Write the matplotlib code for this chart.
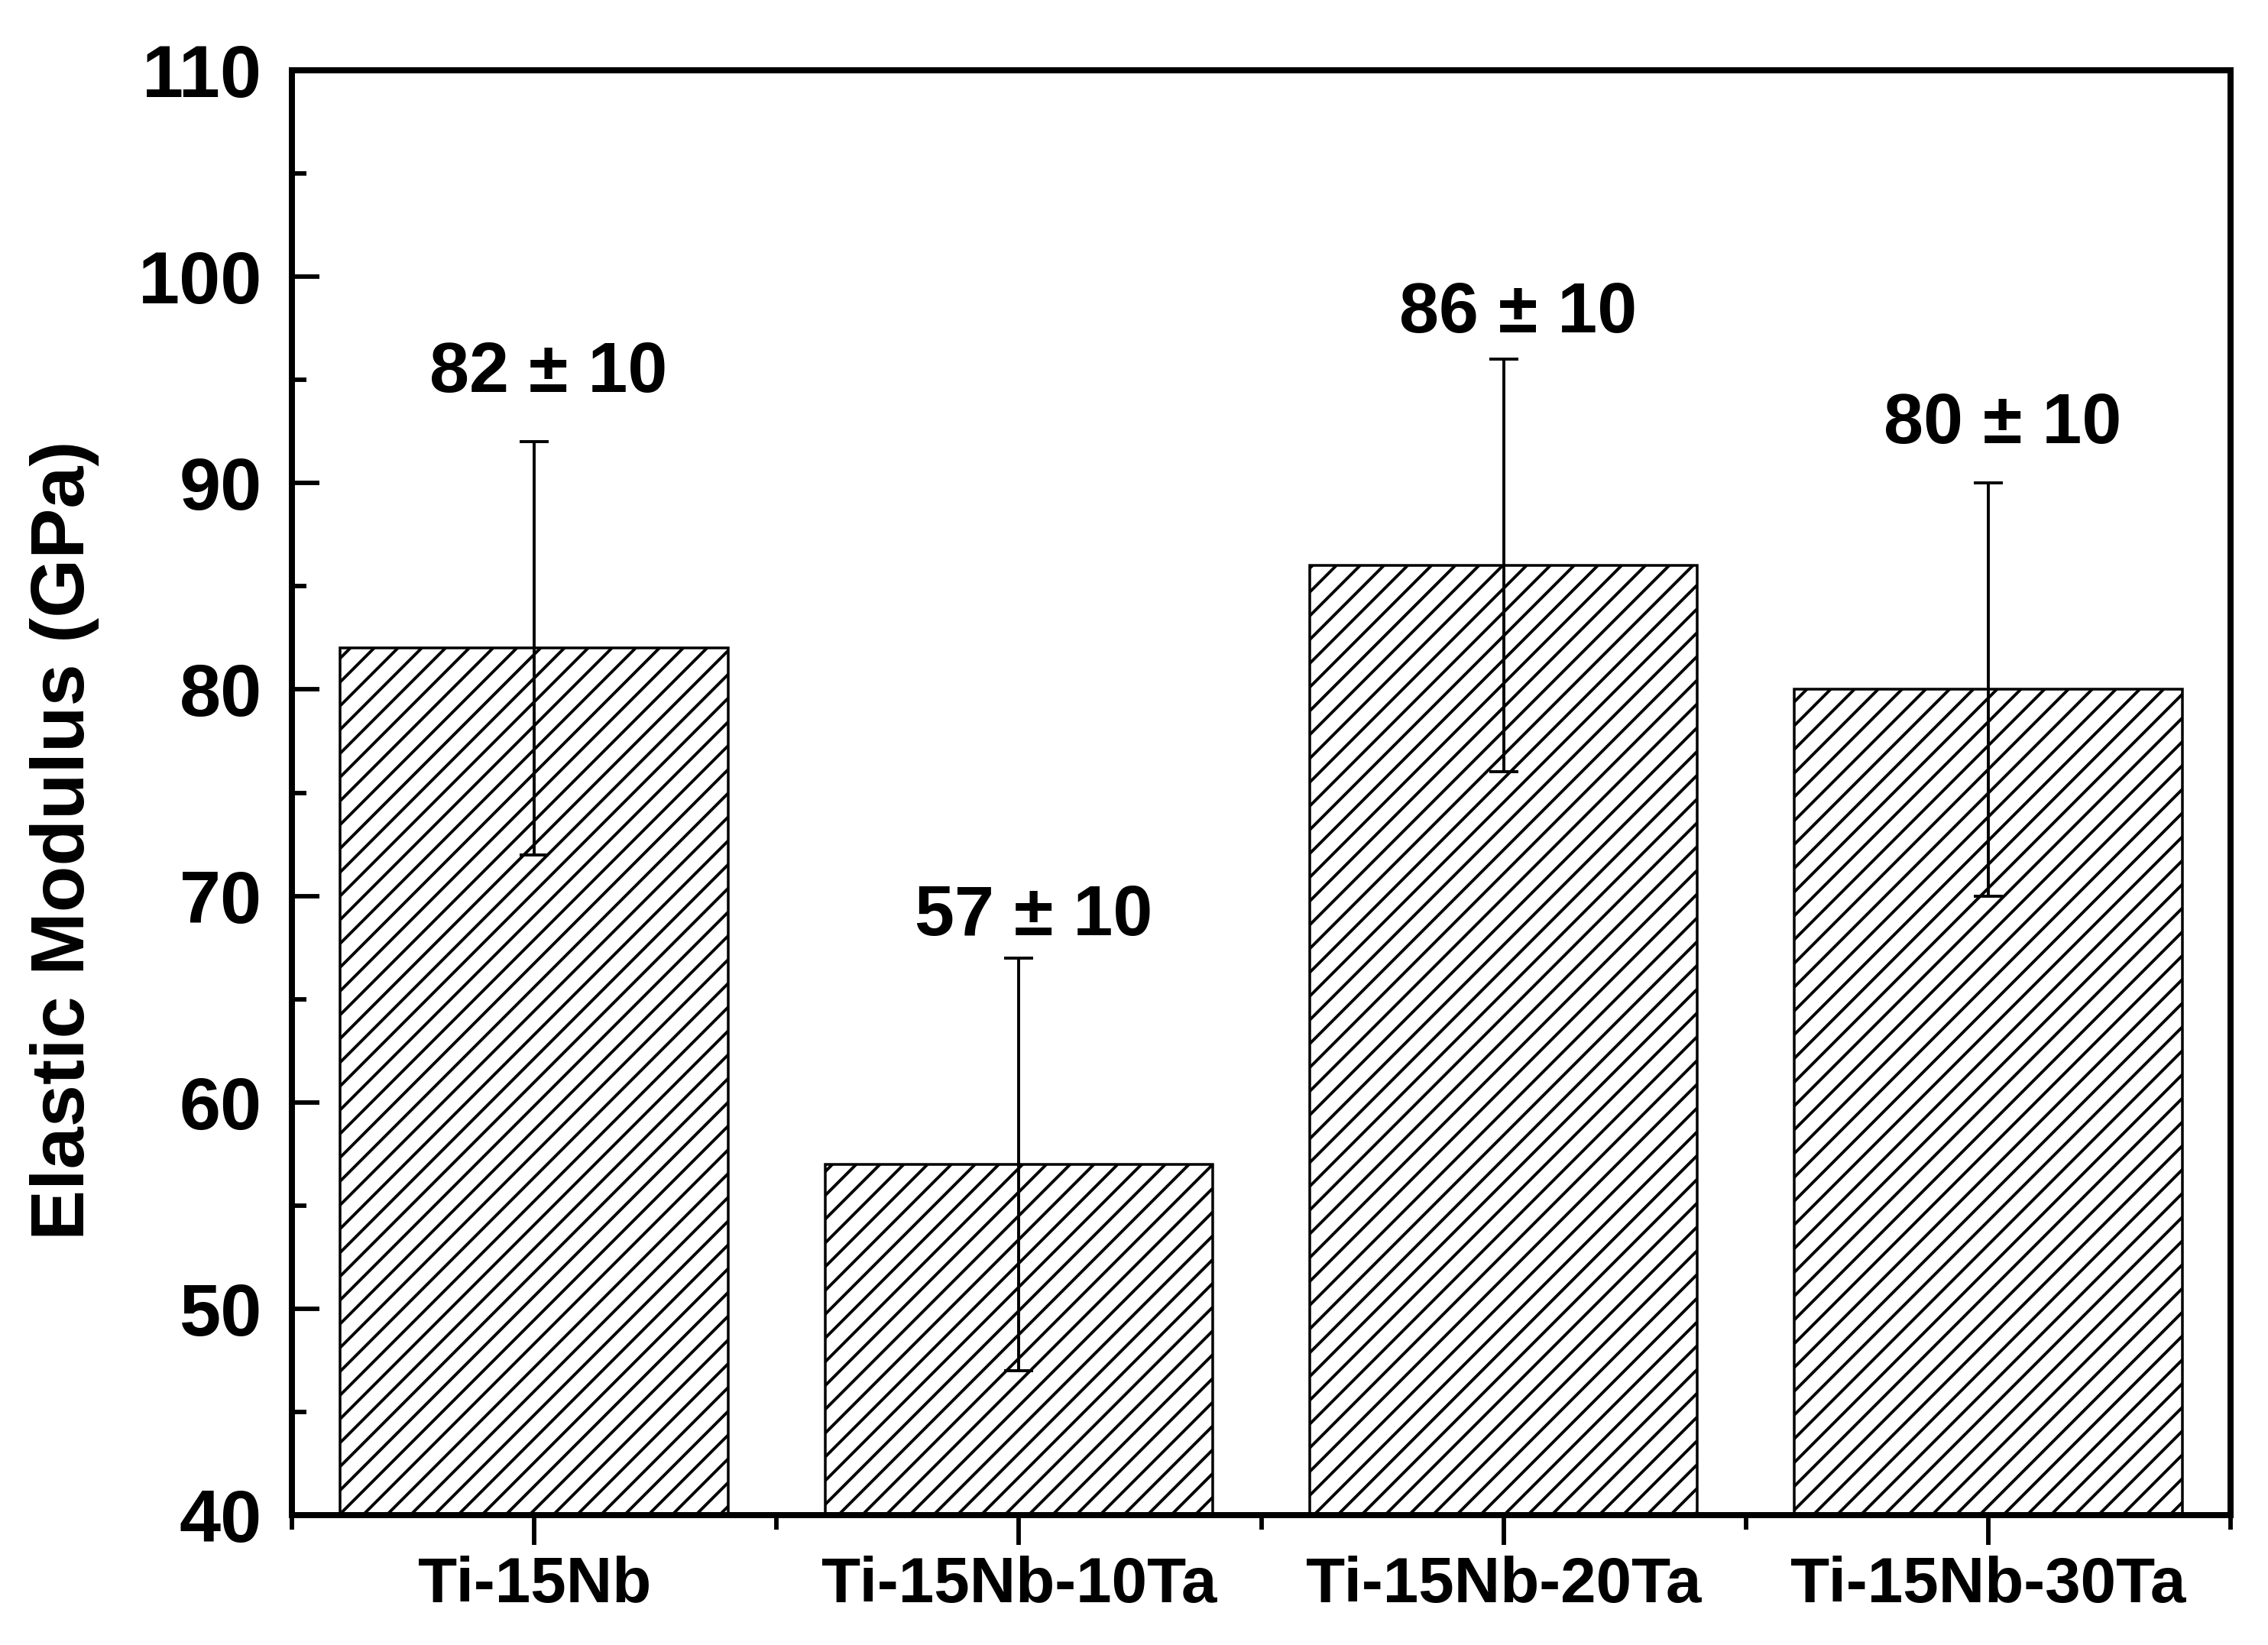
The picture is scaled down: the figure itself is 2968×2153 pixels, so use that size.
import matplotlib
matplotlib.use("Agg")
import matplotlib.pyplot as plt
from matplotlib.ticker import MultipleLocator, FixedLocator
from matplotlib.transforms import ScaledTranslation

# ---- data ----
categories = ["Ti-15Nb", "Ti-15Nb-10Ta", "Ti-15Nb-20Ta", "Ti-15Nb-30Ta"]
modulus = [82, 57, 86, 80]
errors = [10, 10, 10, 10]
annotations = ["82 \u00b1 10", "57 \u00b1 10", "86 \u00b1 10", "80 \u00b1 10"]
annotation_y = [94.4, 68.1, 97.3, 91.95]  # baseline positions

plt.rcParams['font.family'] = ['Liberation Sans', 'DejaVu Sans']
plt.rcParams['font.weight'] = 'bold'
plt.rcParams['hatch.linewidth'] = 1.0

DPI = 280
fig = plt.figure(figsize=(2968 / DPI, 2153 / DPI), dpi=DPI)
L, R, T, B = 382, 2919, 92, 1983
ax = fig.add_axes([L / 2968, 1 - B / 2153, (R - L) / 2968, (B - T) / 2153])

x = list(range(len(categories)))
ax.bar(x, [m - 40 for m in modulus], bottom=40, width=0.8, color='white',
       edgecolor='black', linewidth=0.9, hatch='///', zorder=2)
ax.errorbar(x, modulus, yerr=errors, fmt='none', ecolor='black',
            elinewidth=1.0, capsize=4.9, capthick=1.0, zorder=3)

for xi, txt, yy in zip(x, annotations, annotation_y):
    ax.text(xi + 0.03, yy, txt, ha='center', va='baseline',
            fontsize=24, fontweight='bold')

ax.set_xlim(-0.5, 3.5)
ax.set_ylim(40, 110)

ax.set_xticks(x)
ax.set_xticklabels(categories, fontsize=21.5, fontweight='bold')
ax.xaxis.set_minor_locator(FixedLocator([-0.5, 0.5, 1.5, 2.5, 3.5]))
ax.yaxis.set_major_locator(MultipleLocator(10))
ax.yaxis.set_minor_locator(MultipleLocator(5))

shift = ScaledTranslation(0, 8 / DPI, fig.dpi_scale_trans)
for lab in ax.get_yticklabels():
    lab.set_fontsize(25)
    lab.set_fontweight('bold')
    lab.set_transform(lab.get_transform() + shift)

ax.tick_params(axis='x', which='major', direction='out', length=10, width=1.5, pad=3.5)
ax.tick_params(axis='x', which='minor', direction='out', length=5, width=1.5)
ax.tick_params(axis='y', which='major', direction='in', length=9.3, width=1.5, pad=10)
ax.tick_params(axis='y', which='minor', direction='in', length=5, width=1.5)

for s in ax.spines.values():
    s.set_linewidth(2.05)
    s.set_color('black')

fig.text(85 / 2968, 1 - 1100 / 2153, "Elastic Modulus (GPa)", rotation=90,
         ha='center', va='center', fontsize=25.5, fontweight='bold')

fig.savefig("out.png", dpi=DPI, facecolor='white')
